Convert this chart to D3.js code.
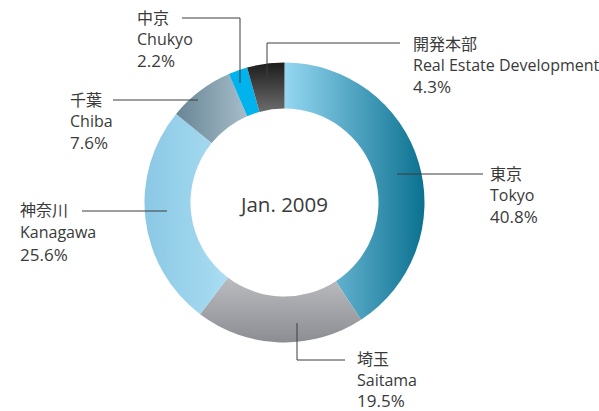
<!DOCTYPE html>
<html>
<meta charset="utf-8">
<script src="https://d3js.org/d3.v7.min.js"></script>
<style>
  body { margin: 0; background: #fff; }
  text { font-family: "Open Sans", "Noto Sans", "Noto Sans CJK JP", sans-serif; fill: #3a3a3a; }
</style>
<body>
<div id="donut"></div>
<script>
// data, clockwise from 12 o'clock
var keys = ["tokyo", "saitama", "kanagawa", "chiba", "chukyo", "realestate"];
var namesJa = ["東京", "埼玉", "神奈川", "千葉", "中京", "開発本部"];
var namesEn = ["Tokyo", "Saitama", "Kanagawa", "Chiba", "Chukyo", "Real Estate Development"];
var shares = [40.8, 19.5, 25.6, 7.6, 2.2, 4.3];
var centerLabel = "Jan. 2009";

var width = 599, height = 411;
var cx = 284.5, cy = 202.5, outerR = 140, innerR = 94;

// gradient per slice: [from, to, direction]
var fills = {
  tokyo:      ["#95d7f2", "#0b7190", "h"],
  saitama:    ["#bbbcc0", "#8c8d92", "v"],
  kanagawa:   ["#8bc8e5", "#a9ddf2", "h"],
  chiba:      ["#688596", "#a6bdc9", "h"],
  chukyo:     ["#00b3ec", "#00b3ec", "h"],
  realestate: ["#1c1c1c", "#6c6c6c", "v"]
};

// label layout: text position, line gaps, and leader polyline
var layout = {
  tokyo:      {x: 490, y: 180, gap: [21, 22], line: [[397, 174], [483, 174]]},
  saitama:    {x: 357, y: 365, gap: [21, 21], line: [[297, 323], [297, 360], [345, 360]]},
  kanagawa:   {x: 20,  y: 216, gap: [22, 23], line: [[167, 211], [82, 211]]},
  chiba:      {x: 70,  y: 106, gap: [21, 22], line: [[198, 100], [113, 100]]},
  chukyo:     {x: 137, y: 24,  gap: [21, 22], line: [[240, 83], [240, 18], [182, 18]]},
  realestate: {x: 413, y: 50,  gap: [21, 22], line: [[267, 82], [267, 43], [400, 43]]}
};

var data = keys.map(function(k, i) {
  return {key: k, ja: namesJa[i], en: namesEn[i], value: shares[i]};
});

var svg = d3.select("#donut").append("svg")
  .attr("width", width)
  .attr("height", height);

var defs = svg.append("defs");
keys.forEach(function(k) {
  var f = fills[k];
  var g = defs.append("linearGradient")
    .attr("id", "grad-" + k)
    .attr("x1", 0).attr("y1", 0)
    .attr("x2", f[2] == "h" ? 1 : 0)
    .attr("y2", f[2] == "v" ? 1 : 0);
  g.append("stop").attr("offset", "0%").attr("stop-color", f[0]);
  g.append("stop").attr("offset", "100%").attr("stop-color", f[1]);
});

var pie = d3.pie()
  .sort(null)
  .value(function(d) { return d.value; });

var arc = d3.arc()
  .innerRadius(innerR)
  .outerRadius(outerR);

var g = svg.append("g")
  .attr("transform", "translate(" + cx + "," + cy + ")");

g.selectAll("path")
  .data(pie(data))
  .enter()
  .append("path")
  .attr("d", arc)
  .style("fill", function(d) { return "url(#grad-" + d.data.key + ")"; });

g.append("text")
  .attr("text-anchor", "middle")
  .attr("y", 9)
  .style("font-size", "20.5px")
  .text(centerLabel);

// leader lines
var line = d3.line();
svg.selectAll(".leader")
  .data(data)
  .enter()
  .append("path")
  .attr("class", "leader")
  .attr("d", function(d) { return line(layout[d.key].line); })
  .style("fill", "none")
  .style("stroke", "#3c3c3c")
  .style("stroke-width", 1);

// labels
var labels = svg.selectAll(".label")
  .data(data)
  .enter()
  .append("text")
  .attr("class", "label")
  .attr("x", function(d) { return layout[d.key].x; })
  .attr("y", function(d) { return layout[d.key].y; })
  .style("font-size", "16px");

labels.append("tspan")
  .attr("x", function(d) { return layout[d.key].x; })
  .text(function(d) { return d.ja; });
labels.append("tspan")
  .attr("x", function(d) { return layout[d.key].x; })
  .attr("dy", function(d) { return layout[d.key].gap[0]; })
  .text(function(d) { return d.en; });
labels.append("tspan")
  .attr("x", function(d) { return layout[d.key].x; })
  .attr("dy", function(d) { return layout[d.key].gap[1]; })
  .style("font-size", "17px")
  .text(function(d) { return d.value.toFixed(1) + "%"; });
</script>
</body>
</html>
